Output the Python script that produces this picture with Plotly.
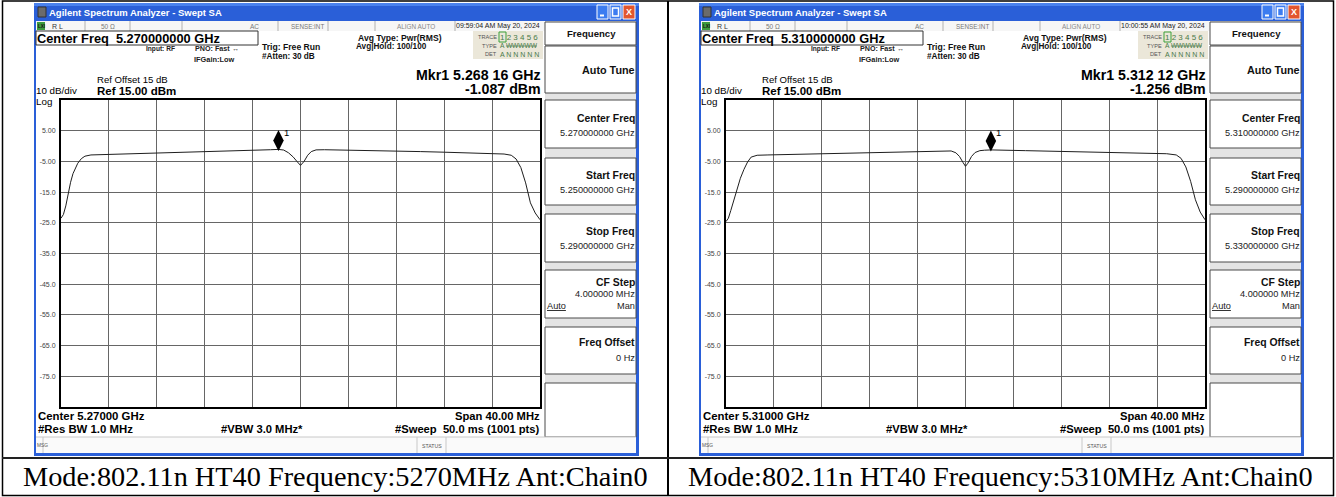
import plotly.graph_objects as go

W, H = 1336, 497

# ---------------- data ----------------
center_ghz = [5.27, 5.31]
start_ghz = [5.25, 5.29]
stop_ghz = [5.29, 5.33]
span_mhz = [40.0, 40.0]
cf_step_mhz = [4.0, 4.0]
ref_level_dbm = [15.0, 15.0]
ref_offset_db = [15, 15]
db_per_div = 10
mkr_freq_ghz = [5.26816, 5.31212]
mkr_level_dbm = [-1.087, -1.256]
timestamps = ["09:59:04 AM May 20, 2024", "10:00:55 AM May 20, 2024"]
captions = ["Mode:802.11n HT40 Frequency:5270MHz Ant:Chain0",
            "Mode:802.11n HT40 Frequency:5310MHz Ant:Chain0"]

ytick_vals = [5, -5, -15, -25, -35, -45, -55, -65, -75]
ytick_text = ["5.00", "-5.00", "-15.0", "-25.0", "-35.0", "-45.0", "-55.0", "-65.0", "-75.0"]

freq_5270 = [5.2500, 5.2502, 5.2504, 5.2506, 5.2508, 5.2510, 5.2512, 5.2514, 5.2517, 5.2520,
             5.2525, 5.2535, 5.2550, 5.2570, 5.2590, 5.2610, 5.2630, 5.2650, 5.2665, 5.2675,
             5.26816, 5.2686, 5.2690, 5.2694, 5.2697, 5.2700, 5.2703, 5.2706, 5.2709, 5.2713,
             5.2720, 5.2740, 5.2760, 5.2783, 5.2800, 5.2820, 5.2840, 5.2860, 5.2870, 5.2876,
             5.2880, 5.2884, 5.2888, 5.2892, 5.2896, 5.2900]
level_5270 = [-23.5, -22.3, -19.5, -15.3, -11.8, -9.0, -7.2, -5.6, -4.1, -3.3,
              -2.9, -2.8, -2.6, -2.4, -2.2, -1.9, -1.7, -1.5, -1.3, -1.2,
              -1.09, -1.3, -2.2, -3.6, -5.0, -6.3, -5.0, -3.0, -1.8, -1.25,
              -1.2, -1.3, -1.45, -1.6, -1.8, -2.0, -2.2, -2.5, -2.6, -3.0,
              -4.2, -7.0, -12.0, -18.5, -21.8, -24.0]

freq_5310 = [5.2900, 5.2902, 5.2904, 5.2906, 5.2908, 5.2910, 5.2912, 5.2915, 5.2918, 5.2921,
             5.2926, 5.2935, 5.2960, 5.2990, 5.3020, 5.3050, 5.3074, 5.3088, 5.3092, 5.3095,
             5.3098, 5.3100, 5.3102, 5.3105, 5.3108, 5.3112, 5.3116, 5.31212, 5.3150, 5.3185,
             5.3220, 5.3250, 5.3268, 5.3276, 5.3280, 5.3284, 5.3288, 5.3292, 5.3296, 5.3300]
level_5310 = [-24.6, -23.5, -21.0, -18.5, -16.3, -13.5, -10.5, -7.6, -5.2, -3.6,
              -3.0, -2.9, -2.7, -2.5, -2.2, -1.9, -1.6, -1.6, -2.2, -3.4,
              -5.4, -6.6, -5.6, -3.4, -2.1, -1.5, -1.35, -1.26, -1.5, -1.8,
              -2.1, -2.3, -2.5, -2.9, -4.0, -6.8, -11.5, -17.5, -21.5, -24.0]

traces_data = [(freq_5270, level_5270), (freq_5310, level_5310)]

# ---------------- style / helpers ----------------
UI = "Liberation Sans, Arial, sans-serif"
SERIF = "Liberation Serif, Times New Roman, serif"
BLUE = "#2a5fd8"
PANEL_DX = [0, 665]
MARKER_LIFT_DB = 2.9

shapes = []
annotations = []


def px(x):
    return x / W


def py(y):
    return 1 - y / H


def rect(x0, y0, x1, y1, fill=None, line=None, lw=1):
    shapes.append(dict(type="rect", xref="paper", yref="paper",
                       x0=px(x0), x1=px(x1), y0=py(y1), y1=py(y0),
                       fillcolor=fill or "rgba(0,0,0,0)",
                       line=dict(color=line or "rgba(0,0,0,0)", width=lw if line else 0),
                       layer="below"))


def seg(x0, y0, x1, y1, color="#000", lw=1):
    shapes.append(dict(type="line", xref="paper", yref="paper",
                       x0=px(x0), x1=px(x1), y0=py(y0), y1=py(y1),
                       line=dict(color=color, width=lw), layer="below"))


def text(s, x, y, size, bold=False, anchor="left", color="#000", family=UI):
    annotations.append(dict(text=f"<b>{s}</b>" if bold else s, x=px(x), y=py(y),
                            xref="paper", yref="paper", xanchor=anchor, yanchor="middle",
                            showarrow=False, borderpad=0, borderwidth=0,
                            font=dict(size=size, color=color, family=family)))


# ---------------- table frame ----------------
rect(2.5, 1, 1333.5, 495.5, fill="white", line="#000", lw=1.5)
seg(668, 1, 668, 496, "#000", 2)
seg(2, 458, 1334, 458, "#222", 2)

for i, dx in enumerate(PANEL_DX):
    # window
    rect(34 + dx, 3, 639 + dx, 456, fill="white")
    rect(34 + dx, 3, 639 + dx, 21, fill=BLUE)
    rect(34 + dx, 3, 639 + dx, 6, fill="#4a82ee")
    rect(34 + dx, 21, 36 + dx, 456, fill=BLUE)
    rect(636 + dx, 21, 639 + dx, 456, fill=BLUE)
    rect(34 + dx, 453, 639 + dx, 456, fill=BLUE)
    # title bar
    rect(38 + dx, 7, 46 + dx, 17, fill="#6b6b6b", line="#333")
    text("Agilent Spectrum Analyzer - Swept SA", 49 + dx, 12.5, 9.5, bold=True, color="white")
    rect(597 + dx, 5, 608 + dx, 19, fill="#3c7cf0", line="white")
    seg(600 + dx, 15.5, 604 + dx, 15.5, "white", 2)
    rect(610 + dx, 5, 621 + dx, 19, fill="#3c7cf0", line="white")
    rect(612.5 + dx, 8, 618.5 + dx, 16, line="white", lw=1.5)
    rect(623 + dx, 5, 635 + dx, 19, fill="#e2562e", line="white")
    text("X", 629 + dx, 12, 9, bold=True, anchor="center", color="white")

    # status row
    rect(36 + dx, 21, 545 + dx, 31, fill="#f6f6f6")
    for xd in [85, 130, 182, 278, 328, 375, 455]:
        seg(xd + dx, 21, xd + dx, 31, "#b0b0b0", 1)
    rect(37 + dx, 22, 45 + dx, 30, fill="#3d9b3d")
    text("LXI", 41 + dx, 26, 4.5, bold=True, anchor="center", color="#111")
    text("R L", 52 + dx, 26, 7, color="#333")
    text("50 Ω", 101 + dx, 26, 6.5, color="#777")
    text("AC", 250 + dx, 26, 6.5, color="#777")
    text("SENSE:INT", 291 + dx, 26, 6.3, color="#777")
    text("ALIGN AUTO", 397 + dx, 26, 6.4, color="#888")
    text(timestamps[i], 456 + dx, 26, 7, color="#222")

    # header
    rect(36 + dx, 31, 258 + dx, 45, fill="white", line="#333")
    text(f"Center Freq  {center_ghz[i]:.9f} GHz", 37 + dx, 38.5, 12.8, bold=True)
    text("Input: RF", 146 + dx, 49, 6.6, bold=True, color="#222")
    text("PNO: Fast ↔", 195 + dx, 49, 7.2, bold=True, color="#222")
    text("IFGain:Low", 194 + dx, 59, 7.4, bold=True, color="#222")
    text("Trig: Free Run", 262 + dx, 47, 8.6, bold=True, color="#111")
    text("#Atten: 30 dB", 262 + dx, 57, 8.2, bold=True, color="#111")
    text("Avg Type: Pwr(RMS)", 358 + dx, 38, 8.6, bold=True, color="#111")
    text("Avg|Hold: 100/100", 356 + dx, 47, 8.2, bold=True, color="#111")

    rect(473 + dx, 31, 543 + dx, 59, fill="#ebe7d9")
    rect(499 + dx, 32, 506 + dx, 42, line="#3aa03a", lw=1)
    text("TRACE", 497 + dx, 37, 5.6, anchor="right", color="#555")
    text("1 2 3 4 5 6", 500 + dx, 37.5, 8, color="#4a7a4a")
    text("TYPE", 497 + dx, 46, 5.6, anchor="right", color="#555")
    text("A <s>WWWWW</s>", 500 + dx, 46, 6.6, color="#4a7a4a")
    text("DET", 497 + dx, 54, 5.6, anchor="right", color="#555")
    text("A N N N N N", 500 + dx, 54, 7, color="#4a7a4a")

    mk = f"{mkr_freq_ghz[i]:.5f}"
    text(f"Mkr1 {mk[:5]} {mk[5:]} GHz", 541 + dx, 75, 14.2, bold=True, anchor="right")
    text(f"{mkr_level_dbm[i]:.3f} dBm", 541 + dx, 88.5, 14.2, bold=True, anchor="right")
    text(f"Ref Offset {ref_offset_db[i]} dB", 97 + dx, 80, 9.6)
    text(f"Ref {ref_level_dbm[i]:.2f} dBm", 97 + dx, 91, 11.5, bold=True)
    text(f"{db_per_div} dB/div", 36 + dx, 91, 9.8)
    text("Log", 36 + dx, 101, 9.8)

    # bottom texts
    text(f"Center {center_ghz[i]:.5f} GHz", 38 + dx, 416, 11.4, bold=True)
    text("#Res BW 1.0 MHz", 38 + dx, 428.5, 11.4, bold=True)
    text("#VBW 3.0 MHz*", 221 + dx, 428.5, 11.2, bold=True)
    text(f"Span {span_mhz[i]:.2f} MHz", 540 + dx, 415.5, 11.2, bold=True, anchor="right")
    text("#Sweep  50.0 ms (1001 pts)", 540 + dx, 429, 11.2, bold=True, anchor="right")

    # softkey panel
    rect(545 + dx, 21, 636 + dx, 437, fill="#e4e4e4")
    for (y0, y1) in [(22, 45), (46, 93), (100, 148), (158, 205), (214, 262), (270, 318), (327, 374), (383, 437)]:
        rect(545 + dx, y0, 636 + dx, y1, fill="white", line="#4a4a4a", lw=1)
    text("Frequency", 591 + dx, 33.5, 9.6, bold=True, anchor="center", color="#111")
    text("Auto Tune", 635 + dx, 70, 10.8, bold=True, anchor="right", color="#111")
    text("Center Freq", 635 + dx, 118, 10.4, bold=True, anchor="right", color="#111")
    text(f"{center_ghz[i]:.9f} GHz", 635 + dx, 133, 9.2, anchor="right", color="#222")
    text("Start Freq", 635 + dx, 175, 10.4, bold=True, anchor="right", color="#111")
    text(f"{start_ghz[i]:.9f} GHz", 635 + dx, 190, 9.2, anchor="right", color="#222")
    text("Stop Freq", 635 + dx, 231, 10.4, bold=True, anchor="right", color="#111")
    text(f"{stop_ghz[i]:.9f} GHz", 635 + dx, 246, 9.2, anchor="right", color="#222")
    text("CF Step", 635 + dx, 282, 10.4, bold=True, anchor="right", color="#111")
    text(f"{cf_step_mhz[i]:.6f} MHz", 635 + dx, 294, 9.2, anchor="right", color="#222")
    text("<u>Auto</u>", 547 + dx, 306, 9.2, color="#222")
    text("Man", 635 + dx, 306, 9.2, anchor="right", color="#222")
    text("Freq Offset", 635 + dx, 342, 10.4, bold=True, anchor="right", color="#111")
    text("0 Hz", 635 + dx, 358, 9.2, anchor="right", color="#222")

    # message / status row
    rect(36 + dx, 437, 636 + dx, 453, fill="#fafafa")
    seg(36 + dx, 437, 636 + dx, 437, "#c8c8c8", 1)
    seg(43 + dx, 437, 43 + dx, 453, "#c8c8c8", 1)
    seg(417 + dx, 437, 417 + dx, 453, "#c8c8c8", 1)
    seg(446 + dx, 437, 446 + dx, 453, "#c8c8c8", 1)
    text("MSG", 37 + dx, 445, 4.8, color="#555")
    text("STATUS", 431.5 + dx, 445.5, 5.2, anchor="center", color="#555")

    # caption
    text(captions[i], 335.5 + dx, 476, 28.3, anchor="center", family=SERIF)

# ---------------- figure ----------------
fig = go.Figure()
layout = dict(width=W, height=H, margin=dict(l=0, r=0, t=0, b=0),
              paper_bgcolor="white", plot_bgcolor="white", showlegend=False,
              shapes=shapes, annotations=annotations, font=dict(family=UI))

for i, (fr, lv) in enumerate(traces_data):
    xa = "x" if i == 0 else "x2"
    ya = "y" if i == 0 else "y2"
    fig.add_trace(go.Scatter(x=fr, y=lv, mode="lines", line=dict(color="#1e1e1e", width=1),
                             xaxis=xa, yaxis=ya, hoverinfo="skip"))
    fig.add_trace(go.Scatter(x=[mkr_freq_ghz[i]], y=[mkr_level_dbm[i] + MARKER_LIFT_DB],
                             mode="markers", marker=dict(symbol="diamond-tall", size=15, color="#000"),
                             xaxis=xa, yaxis=ya, hoverinfo="skip"))
    annotations.append(dict(text="1", x=mkr_freq_ghz[i], y=mkr_level_dbm[i], xref=xa, yref=ya,
                            xshift=8, yshift=17, showarrow=False, font=dict(size=9.5, color="#000", family=UI)))
    dx = PANEL_DX[i]
    xk = "xaxis" if i == 0 else "xaxis2"
    yk = "yaxis" if i == 0 else "yaxis2"
    layout[xk] = dict(domain=[px(61 + dx), px(540 + dx)], range=[start_ghz[i], stop_ghz[i]],
                      tick0=start_ghz[i], dtick=span_mhz[i] / 10 / 1000, showgrid=True,
                      gridcolor="#666", gridwidth=1, showticklabels=False, ticks="",
                      zeroline=False, showline=True, mirror=True, linecolor="#000",
                      linewidth=2, anchor=ya, fixedrange=True)
    layout[yk] = dict(domain=[py(407), py(100)],
                      range=[ref_level_dbm[i] - 10 * db_per_div, ref_level_dbm[i]],
                      tickvals=ytick_vals, ticktext=ytick_text, showgrid=True,
                      gridcolor="#666", gridwidth=1, ticks="", zeroline=False,
                      showline=True, mirror=True, linecolor="#000", linewidth=2,
                      tickfont=dict(size=7, color="#444", family=UI), anchor=xa,
                      fixedrange=True, ticklabelstandoff=2)

fig.update_layout(**layout)
fig.write_html("out.html", config={"displayModeBar": False},
               post_script="document.body.style.margin='0';")
